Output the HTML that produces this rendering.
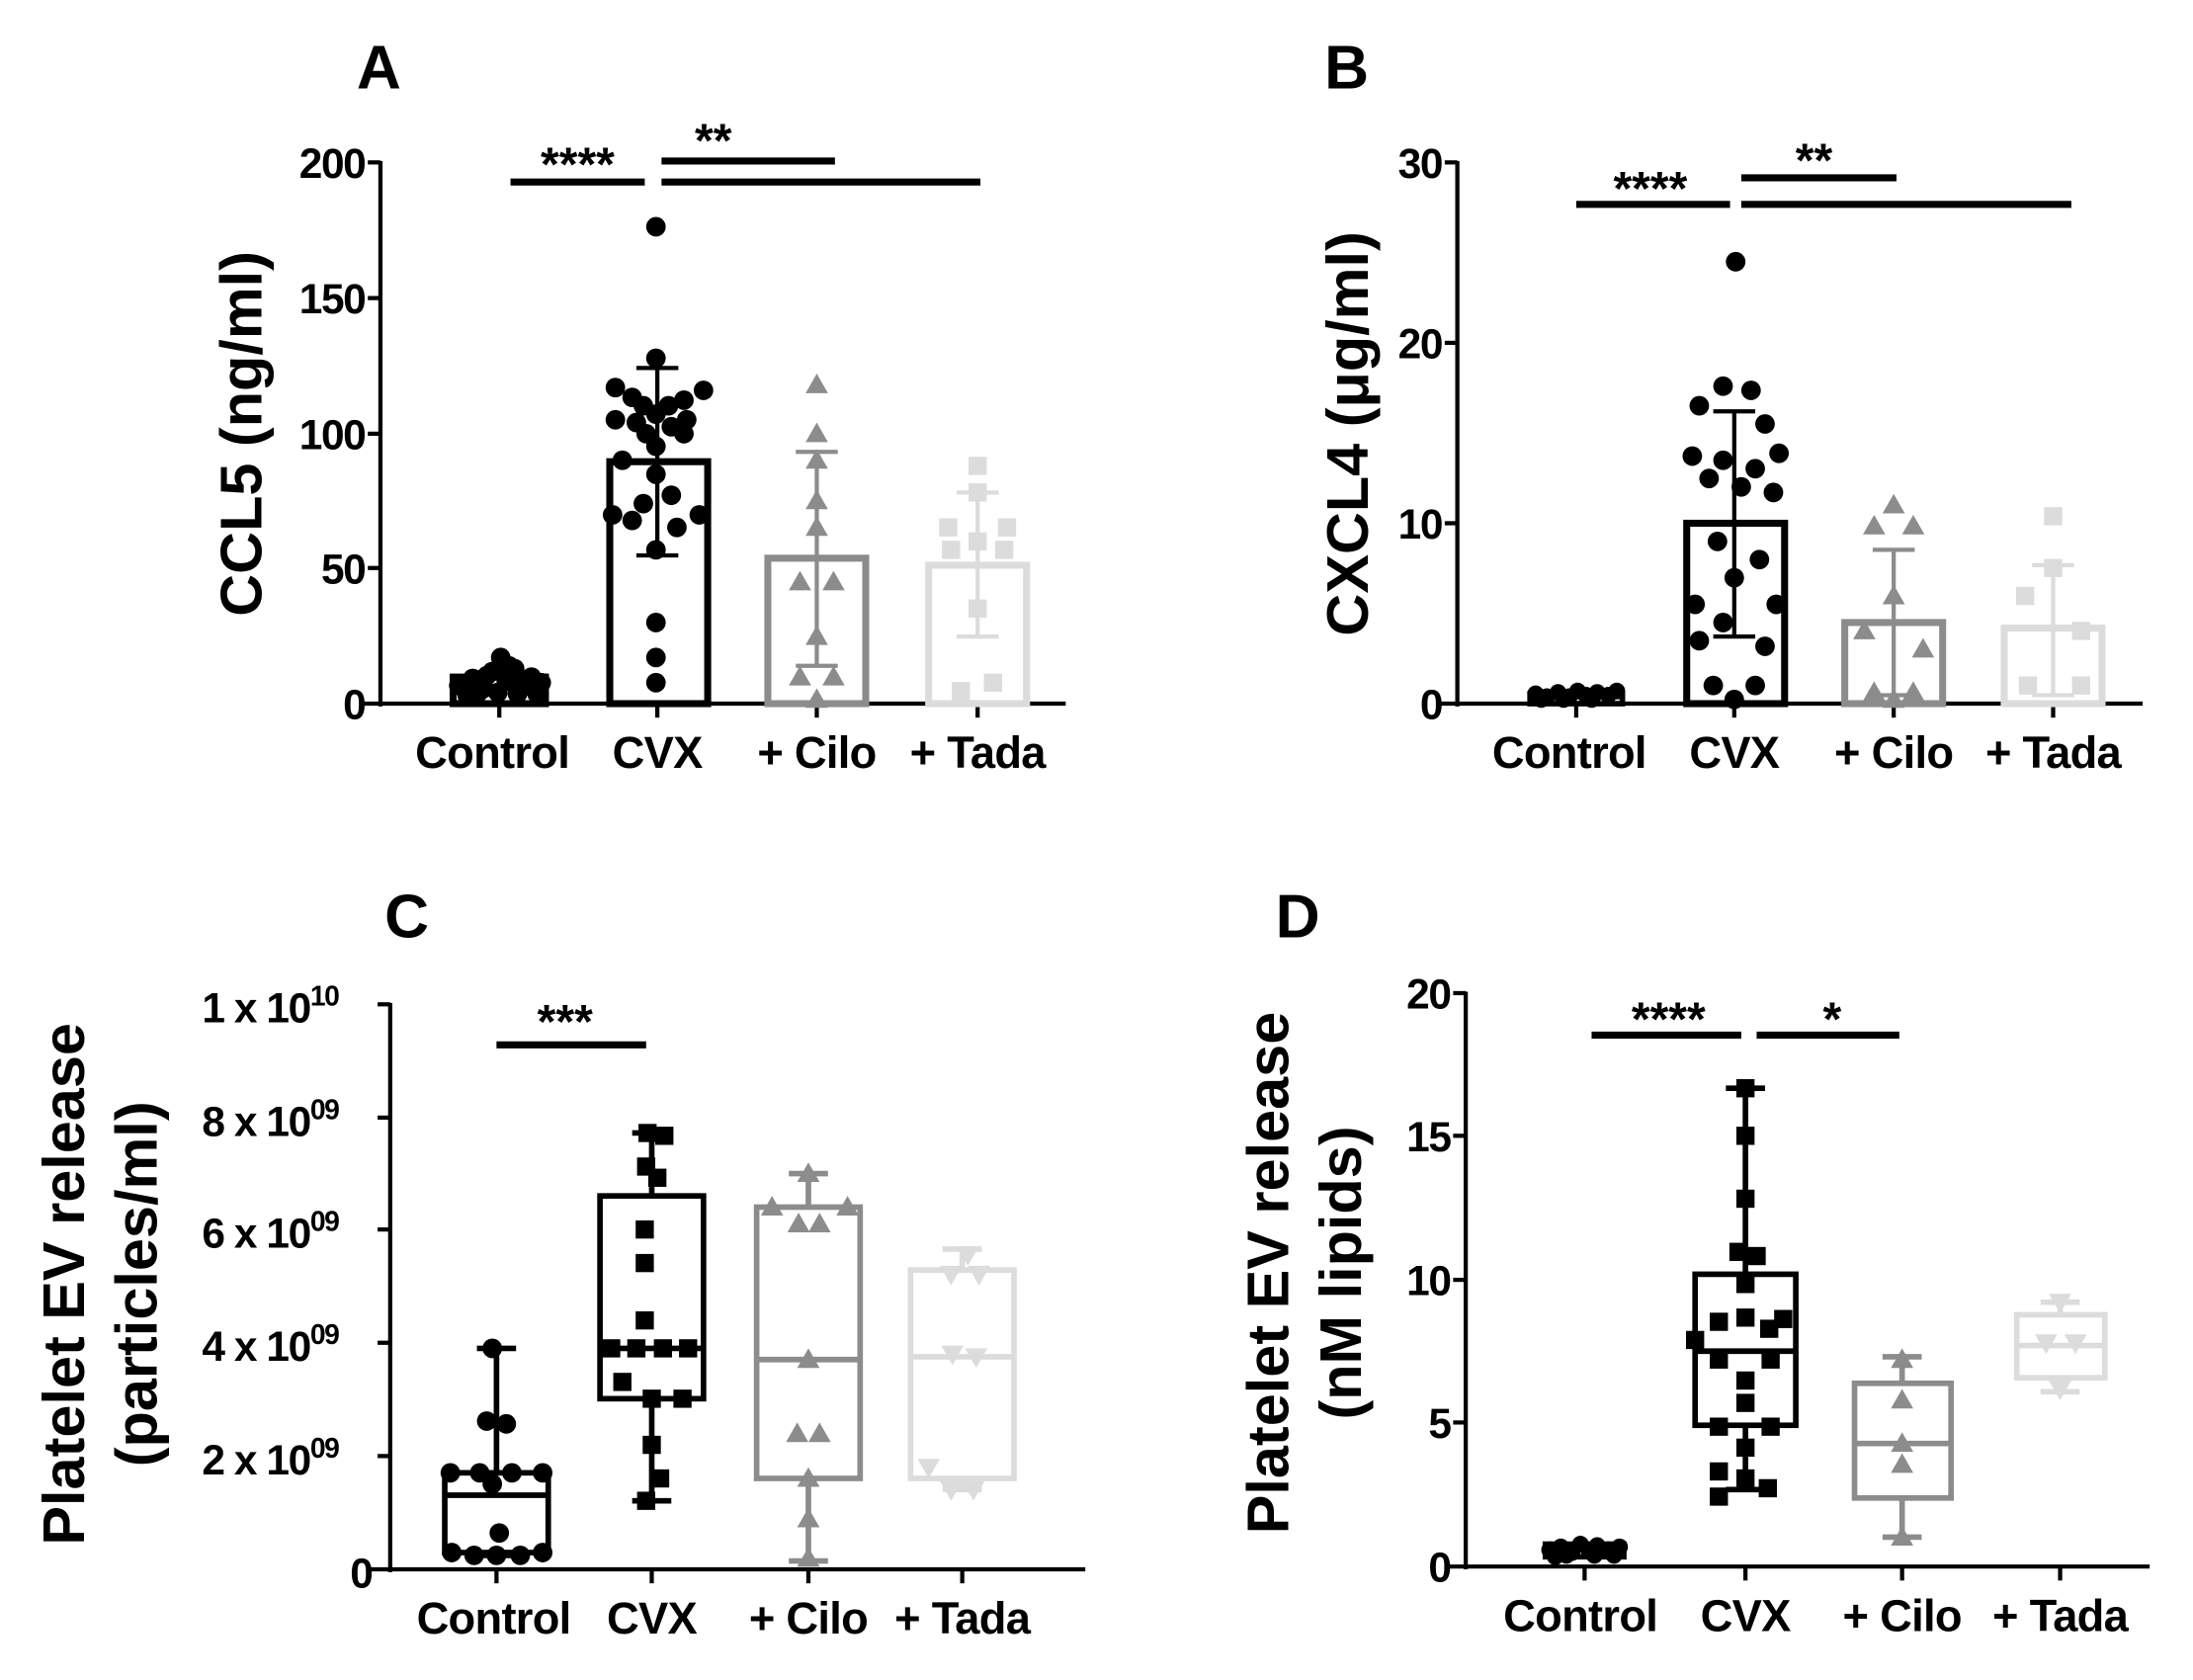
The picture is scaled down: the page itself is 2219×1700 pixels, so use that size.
<!DOCTYPE html>
<html><head><meta charset="utf-8"><style>
html,body{margin:0;padding:0;background:#fff}
svg{display:block}
text{font-family:"Liberation Sans",Arial,sans-serif;font-weight:bold;fill:#000}
.t{font-size:30px;letter-spacing:-1px}
.xl{font-size:32px;letter-spacing:-0.5px}
.yl{font-size:42px}
.pl{font-size:44px}
.s{font-size:34px}
</style></head><body>
<svg width="2219" height="1700" viewBox="0 0 1568 1201" xmlns="http://www.w3.org/2000/svg">
<defs>
<circle id="c" r="7" fill="#000"/>
<circle id="cs" r="6" fill="#000"/>
<rect id="q" x="-6.5" y="-6.5" width="13" height="13" fill="#000"/>
<polygon id="tg" points="0,-8 8,6 -8,6" fill="#8c8c8c"/>
<rect id="ql" x="-6.5" y="-6.5" width="13" height="13" fill="#dcdcdc"/>
<polygon id="vl" points="0,8 8,-6 -8,-6" fill="#dcdcdc"/>
</defs>

<!-- ============ PANEL A ============ -->
<text class="pl" x="255" y="63">A</text>
<g stroke="#000" stroke-width="3" fill="none">
<line x1="272" y1="115" x2="272" y2="505"/>
<line x1="258" y1="503" x2="762" y2="503"/>
<line x1="263" y1="116" x2="272" y2="116"/><line x1="263" y1="213" x2="272" y2="213"/>
<line x1="263" y1="310" x2="272" y2="310"/><line x1="263" y1="406" x2="272" y2="406"/>
<line x1="357" y1="503" x2="357" y2="513"/><line x1="470" y1="503" x2="470" y2="513"/>
<line x1="584" y1="503" x2="584" y2="513"/><line x1="699" y1="503" x2="699" y2="513"/>
</g>
<g class="t" text-anchor="end"><text x="261" y="127">200</text><text x="261" y="224">150</text><text x="261" y="321">100</text><text x="261" y="417">50</text><text x="261" y="514">0</text></g>
<g class="xl" text-anchor="middle"><text x="352" y="549">Control</text><text x="470" y="549">CVX</text><text x="584" y="549">+ Cilo</text><text x="699" y="549">+ Tada</text></g>
<text class="yl" transform="translate(187,310) rotate(-90)" text-anchor="middle">CCL5 (ng/ml)</text>
<rect x="324" y="484" width="66" height="19" fill="none" stroke="#000" stroke-width="5"/>
<rect x="436" y="330" width="70" height="173" fill="none" stroke="#000" stroke-width="5"/>
<rect x="549" y="399" width="70" height="104" fill="none" stroke="#8c8c8c" stroke-width="5"/>
<rect x="664" y="404" width="70" height="99" fill="none" stroke="#dcdcdc" stroke-width="5"/>
<g stroke="#000" stroke-width="3"><line x1="470" y1="263" x2="470" y2="397"/><line x1="455" y1="263" x2="485" y2="263"/><line x1="455" y1="397" x2="485" y2="397"/></g>
<g stroke="#8c8c8c" stroke-width="3"><line x1="584" y1="323" x2="584" y2="476"/><line x1="569" y1="323" x2="599" y2="323"/><line x1="569" y1="476" x2="599" y2="476"/></g>
<g stroke="#dcdcdc" stroke-width="3"><line x1="699" y1="352" x2="699" y2="455"/><line x1="684" y1="352" x2="714" y2="352"/><line x1="684" y1="455" x2="714" y2="455"/></g>
<g>
<use href="#c" x="328" y="490"/><use href="#c" x="338" y="485"/><use href="#c" x="346" y="492"/><use href="#c" x="352" y="480"/><use href="#c" x="358" y="470"/><use href="#c" x="362" y="487"/><use href="#c" x="368" y="478"/><use href="#c" x="374" y="491"/><use href="#c" x="380" y="484"/><use href="#c" x="387" y="488"/><use href="#c" x="342" y="495"/><use href="#c" x="356" y="495"/><use href="#c" x="370" y="496"/><use href="#c" x="334" y="497"/><use href="#c" x="384" y="496"/><use href="#c" x="364" y="476"/><use href="#c" x="348" y="483"/>
</g>
<g>
<use href="#c" x="469" y="162"/><use href="#c" x="469" y="256"/><use href="#c" x="440" y="277"/><use href="#c" x="503" y="279"/><use href="#c" x="452" y="284"/><use href="#c" x="489" y="286"/><use href="#c" x="460" y="290"/><use href="#c" x="478" y="290"/><use href="#c" x="469" y="296"/><use href="#c" x="440" y="300"/><use href="#c" x="491" y="300"/><use href="#c" x="455" y="302"/><use href="#c" x="480" y="305"/><use href="#c" x="462" y="310"/><use href="#c" x="489" y="310"/><use href="#c" x="469" y="319"/><use href="#c" x="445" y="329"/><use href="#c" x="469" y="339"/><use href="#c" x="480" y="354"/><use href="#c" x="460" y="360"/><use href="#c" x="438" y="368"/><use href="#c" x="500" y="368"/><use href="#c" x="452" y="372"/><use href="#c" x="484" y="377"/><use href="#c" x="469" y="393"/><use href="#c" x="469" y="445"/><use href="#c" x="469" y="470"/><use href="#c" x="469" y="488"/>
</g>
<g>
<use href="#tg" x="584" y="275"/><use href="#tg" x="584" y="310"/><use href="#tg" x="584" y="329"/><use href="#tg" x="584" y="358"/><use href="#tg" x="584" y="377"/><use href="#tg" x="572" y="416"/><use href="#tg" x="596" y="416"/><use href="#tg" x="584" y="455"/><use href="#tg" x="572" y="484"/><use href="#tg" x="596" y="484"/><use href="#tg" x="584" y="500"/>
</g>
<g>
<use href="#ql" x="699" y="333"/><use href="#ql" x="699" y="352"/><use href="#ql" x="678" y="377"/><use href="#ql" x="720" y="377"/><use href="#ql" x="699" y="387"/><use href="#ql" x="680" y="393"/><use href="#ql" x="718" y="393"/><use href="#ql" x="699" y="435"/><use href="#ql" x="710" y="488"/><use href="#ql" x="687" y="494"/>
</g>
<g stroke="#000" stroke-width="5"><line x1="365" y1="130" x2="461" y2="130"/><line x1="473" y1="115" x2="597" y2="115"/><line x1="473" y1="130" x2="701" y2="130"/></g>
<text class="s" x="413" y="129" text-anchor="middle">****</text>
<text class="s" x="510" y="112" text-anchor="middle">**</text>

<!-- ============ PANEL B ============ -->
<text class="pl" x="947" y="63">B</text>
<g stroke="#000" stroke-width="3" fill="none">
<line x1="1042" y1="115" x2="1042" y2="505"/>
<line x1="1028" y1="503" x2="1532" y2="503"/>
<line x1="1033" y1="116" x2="1042" y2="116"/><line x1="1033" y1="245" x2="1042" y2="245"/><line x1="1033" y1="374" x2="1042" y2="374"/>
<line x1="1127" y1="503" x2="1127" y2="513"/><line x1="1240" y1="503" x2="1240" y2="513"/><line x1="1354" y1="503" x2="1354" y2="513"/><line x1="1468" y1="503" x2="1468" y2="513"/>
</g>
<g class="t" text-anchor="end"><text x="1031" y="127">30</text><text x="1031" y="256">20</text><text x="1031" y="385">10</text><text x="1031" y="514">0</text></g>
<g class="xl" text-anchor="middle"><text x="1122" y="549">Control</text><text x="1240" y="549">CVX</text><text x="1354" y="549">+ Cilo</text><text x="1468" y="549">+ Tada</text></g>
<text class="yl" transform="translate(978,310) rotate(-90)" text-anchor="middle">CXCL4 (μg/ml)</text>
<rect x="1094" y="496" width="66" height="7" fill="none" stroke="#000" stroke-width="4"/>
<rect x="1206" y="374" width="70" height="129" fill="none" stroke="#000" stroke-width="5"/>
<rect x="1319" y="445" width="70" height="58" fill="none" stroke="#8c8c8c" stroke-width="5"/>
<rect x="1433" y="449" width="70" height="54" fill="none" stroke="#dcdcdc" stroke-width="5"/>
<g stroke="#000" stroke-width="3"><line x1="1240" y1="294" x2="1240" y2="455"/><line x1="1225" y1="294" x2="1255" y2="294"/><line x1="1225" y1="455" x2="1255" y2="455"/></g>
<g stroke="#8c8c8c" stroke-width="3"><line x1="1354" y1="393" x2="1354" y2="497"/><line x1="1339" y1="393" x2="1369" y2="393"/><line x1="1339" y1="497" x2="1369" y2="497"/></g>
<g stroke="#dcdcdc" stroke-width="3"><line x1="1468" y1="404" x2="1468" y2="497"/><line x1="1453" y1="404" x2="1483" y2="404"/><line x1="1453" y1="497" x2="1483" y2="497"/></g>
<g>
<use href="#cs" x="1098" y="496"/><use href="#cs" x="1106" y="498"/><use href="#cs" x="1114" y="495"/><use href="#cs" x="1122" y="498"/><use href="#cs" x="1128" y="494"/><use href="#cs" x="1134" y="497"/><use href="#cs" x="1142" y="495"/><use href="#cs" x="1150" y="497"/><use href="#cs" x="1156" y="494"/><use href="#cs" x="1118" y="500"/><use href="#cs" x="1138" y="500"/><use href="#cs" x="1102" y="500"/>
</g>
<g>
<use href="#c" x="1241" y="187"/><use href="#c" x="1232" y="276"/><use href="#c" x="1252" y="279"/><use href="#c" x="1215" y="290"/><use href="#c" x="1262" y="303"/><use href="#c" x="1210" y="326"/><use href="#c" x="1272" y="324"/><use href="#c" x="1232" y="329"/><use href="#c" x="1255" y="335"/><use href="#c" x="1222" y="342"/><use href="#c" x="1245" y="348"/><use href="#c" x="1268" y="352"/><use href="#c" x="1228" y="387"/><use href="#c" x="1258" y="400"/><use href="#c" x="1240" y="413"/><use href="#c" x="1212" y="432"/><use href="#c" x="1270" y="432"/><use href="#c" x="1232" y="445"/><use href="#c" x="1215" y="458"/><use href="#c" x="1262" y="462"/><use href="#c" x="1225" y="490"/><use href="#c" x="1255" y="490"/><use href="#c" x="1240" y="500"/>
</g>
<g>
<use href="#tg" x="1354" y="361"/><use href="#tg" x="1340" y="376"/><use href="#tg" x="1368" y="376"/><use href="#tg" x="1354" y="426"/><use href="#tg" x="1333" y="451"/><use href="#tg" x="1375" y="464"/><use href="#tg" x="1340" y="495"/><use href="#tg" x="1368" y="495"/><use href="#tg" x="1354" y="500"/>
</g>
<g>
<use href="#ql" x="1468" y="369"/><use href="#ql" x="1468" y="406"/><use href="#ql" x="1448" y="426"/><use href="#ql" x="1488" y="451"/><use href="#ql" x="1450" y="490"/><use href="#ql" x="1488" y="490"/>
</g>
<g stroke="#000" stroke-width="5"><line x1="1127" y1="146" x2="1237" y2="146"/><line x1="1245" y1="127" x2="1356" y2="127"/><line x1="1245" y1="146" x2="1481" y2="146"/></g>
<text class="s" x="1180" y="146" text-anchor="middle">****</text>
<text class="s" x="1297" y="126" text-anchor="middle">**</text>

<!-- ============ PANEL C ============ -->
<text class="pl" x="275" y="670">C</text>
<g stroke="#000" stroke-width="3" fill="none">
<line x1="279" y1="717" x2="279" y2="1124"/>
<line x1="265" y1="1122" x2="776" y2="1122"/>
<line x1="270" y1="718" x2="279" y2="718"/><line x1="270" y1="799" x2="279" y2="799"/><line x1="270" y1="879" x2="279" y2="879"/><line x1="270" y1="960" x2="279" y2="960"/><line x1="270" y1="1041" x2="279" y2="1041"/>
<line x1="355" y1="1122" x2="355" y2="1132"/><line x1="466" y1="1122" x2="466" y2="1132"/><line x1="578" y1="1122" x2="578" y2="1132"/><line x1="688" y1="1122" x2="688" y2="1132"/>
</g>
<g class="t" text-anchor="end">
<text x="242" y="731">1 x 10<tspan font-size="20" dy="-12">10</tspan></text>
<text x="242" y="812">8 x 10<tspan font-size="20" dy="-12">09</tspan></text>
<text x="242" y="892">6 x 10<tspan font-size="20" dy="-12">09</tspan></text>
<text x="242" y="973">4 x 10<tspan font-size="20" dy="-12">09</tspan></text>
<text x="242" y="1054">2 x 10<tspan font-size="20" dy="-12">09</tspan></text>
<text x="266" y="1135">0</text>
</g>
<g class="xl" text-anchor="middle"><text x="353" y="1168">Control</text><text x="466" y="1168">CVX</text><text x="578" y="1168">+ Cilo</text><text x="688" y="1168">+ Tada</text></g>
<text class="yl" transform="translate(60,918) rotate(-90)" text-anchor="middle">Platelet EV release</text>
<text class="yl" transform="translate(112,918) rotate(-90)" text-anchor="middle">(particles/ml)</text>
<g stroke="#000" stroke-width="4" fill="none">
<line x1="355" y1="964" x2="355" y2="1112"/><line x1="341" y1="964" x2="369" y2="964"/><line x1="341" y1="1112" x2="369" y2="1112"/>
<rect x="318" y="1053" width="74" height="57" fill="#fff"/><line x1="318" y1="1069" x2="392" y2="1069"/>
<line x1="466" y1="810" x2="466" y2="1073"/><line x1="452" y1="810" x2="480" y2="810"/><line x1="452" y1="1073" x2="480" y2="1073"/>
<rect x="429" y="855" width="74" height="145" fill="#fff"/><line x1="429" y1="964" x2="503" y2="964"/>
</g>
<g stroke="#8c8c8c" stroke-width="4" fill="none">
<line x1="578" y1="839" x2="578" y2="1116"/><line x1="564" y1="839" x2="592" y2="839"/><line x1="564" y1="1116" x2="592" y2="1116"/>
<rect x="541" y="863" width="74" height="194" fill="#fff"/><line x1="541" y1="972" x2="615" y2="972"/>
</g>
<g stroke="#dcdcdc" stroke-width="4" fill="none">
<line x1="688" y1="893" x2="688" y2="1065"/><line x1="674" y1="893" x2="702" y2="893"/><line x1="674" y1="1065" x2="702" y2="1065"/>
<rect x="651" y="908" width="74" height="149" fill="#fff"/><line x1="651" y1="970" x2="725" y2="970"/>
</g>
<g>
<use href="#c" x="352" y="964"/><use href="#c" x="348" y="1016"/><use href="#c" x="362" y="1018"/><use href="#c" x="322" y="1053"/><use href="#c" x="343" y="1053"/><use href="#c" x="366" y="1053"/><use href="#c" x="388" y="1053"/><use href="#c" x="352" y="1061"/><use href="#c" x="357" y="1096"/><use href="#c" x="323" y="1110"/><use href="#c" x="339" y="1112"/><use href="#c" x="355" y="1112"/><use href="#c" x="372" y="1112"/><use href="#c" x="388" y="1110"/>
</g>
<g>
<use href="#q" x="463" y="810"/><use href="#q" x="475" y="812"/><use href="#q" x="462" y="834"/><use href="#q" x="470" y="842"/><use href="#q" x="461" y="879"/><use href="#q" x="461" y="903"/><use href="#q" x="461" y="944"/><use href="#q" x="437" y="964"/><use href="#q" x="455" y="964"/><use href="#q" x="474" y="964"/><use href="#q" x="492" y="964"/><use href="#q" x="445" y="988"/><use href="#q" x="466" y="1000"/><use href="#q" x="488" y="1000"/><use href="#q" x="466" y="1033"/><use href="#q" x="472" y="1057"/><use href="#q" x="462" y="1073"/>
</g>
<g>
<use href="#tg" x="578" y="839"/><use href="#tg" x="552" y="863"/><use href="#tg" x="606" y="863"/><use href="#tg" x="571" y="875"/><use href="#tg" x="586" y="875"/><use href="#tg" x="578" y="972"/><use href="#tg" x="570" y="1025"/><use href="#tg" x="586" y="1025"/><use href="#tg" x="578" y="1057"/><use href="#tg" x="578" y="1086"/><use href="#tg" x="578" y="1114"/>
</g>
<g>
<use href="#vl" x="692" y="897"/><use href="#vl" x="680" y="911"/><use href="#vl" x="700" y="911"/><use href="#vl" x="681" y="968"/><use href="#vl" x="698" y="970"/><use href="#vl" x="664" y="1049"/><use href="#vl" x="680" y="1065"/><use href="#vl" x="696" y="1065"/>
</g>
<line x1="355" y1="747" x2="462" y2="747" stroke="#000" stroke-width="5"/>
<text class="s" x="404" y="742" text-anchor="middle">***</text>

<!-- ============ PANEL D ============ -->
<text class="pl" x="912" y="670">D</text>
<g stroke="#000" stroke-width="3" fill="none">
<line x1="1048" y1="709" x2="1048" y2="1122"/>
<line x1="1034" y1="1120" x2="1537" y2="1120"/>
<line x1="1039" y1="710" x2="1048" y2="710"/><line x1="1039" y1="812" x2="1048" y2="812"/><line x1="1039" y1="915" x2="1048" y2="915"/><line x1="1039" y1="1017" x2="1048" y2="1017"/>
<line x1="1133" y1="1120" x2="1133" y2="1130"/><line x1="1248" y1="1120" x2="1248" y2="1130"/><line x1="1360" y1="1120" x2="1360" y2="1130"/><line x1="1473" y1="1120" x2="1473" y2="1130"/>
</g>
<g class="t" text-anchor="end"><text x="1037" y="721">20</text><text x="1037" y="823">15</text><text x="1037" y="926">10</text><text x="1037" y="1028">5</text><text x="1037" y="1131">0</text></g>
<g class="xl" text-anchor="middle"><text x="1130" y="1166">Control</text><text x="1248" y="1166">CVX</text><text x="1360" y="1166">+ Cilo</text><text x="1473" y="1166">+ Tada</text></g>
<text class="yl" transform="translate(921,910) rotate(-90)" text-anchor="middle">Platelet EV release</text>
<text class="yl" transform="translate(973,910) rotate(-90)" text-anchor="middle">(nM lipids)</text>
<g stroke="#000" stroke-width="4" fill="none">
<line x1="1248" y1="778" x2="1248" y2="1065"/><line x1="1234" y1="778" x2="1262" y2="778"/><line x1="1234" y1="1065" x2="1262" y2="1065"/>
<rect x="1212" y="911" width="72" height="108" fill="#fff"/><line x1="1212" y1="966" x2="1284" y2="966"/>
<rect x="1105" y="1104" width="56" height="9" fill="#fff"/>
</g>
<g stroke="#8c8c8c" stroke-width="4" fill="none">
<line x1="1360" y1="970" x2="1360" y2="1099"/><line x1="1346" y1="970" x2="1374" y2="970"/><line x1="1346" y1="1099" x2="1374" y2="1099"/>
<rect x="1326" y="989" width="69" height="82" fill="#fff"/><line x1="1326" y1="1032" x2="1395" y2="1032"/>
</g>
<g stroke="#dcdcdc" stroke-width="4" fill="none">
<line x1="1473" y1="931" x2="1473" y2="995"/><line x1="1459" y1="931" x2="1487" y2="931"/><line x1="1459" y1="995" x2="1487" y2="995"/>
<rect x="1442" y="940" width="63" height="45" fill="#fff"/><line x1="1442" y1="962" x2="1505" y2="962"/>
</g>
<g>
<use href="#cs" x="1108" y="1108"/><use href="#cs" x="1116" y="1106"/><use href="#cs" x="1124" y="1110"/><use href="#cs" x="1130" y="1104"/><use href="#cs" x="1136" y="1108"/><use href="#cs" x="1142" y="1105"/><use href="#cs" x="1150" y="1108"/><use href="#cs" x="1158" y="1106"/><use href="#cs" x="1120" y="1112"/><use href="#cs" x="1140" y="1112"/><use href="#cs" x="1154" y="1112"/><use href="#cs" x="1112" y="1113"/>
</g>
<g>
<use href="#q" x="1248" y="778"/><use href="#q" x="1248" y="812"/><use href="#q" x="1248" y="857"/><use href="#q" x="1243" y="895"/><use href="#q" x="1256" y="898"/><use href="#q" x="1248" y="918"/><use href="#q" x="1229" y="945"/><use href="#q" x="1248" y="942"/><use href="#q" x="1275" y="943"/><use href="#q" x="1265" y="950"/><use href="#q" x="1212" y="958"/><use href="#q" x="1229" y="972"/><use href="#q" x="1266" y="972"/><use href="#q" x="1248" y="987"/><use href="#q" x="1248" y="1003"/><use href="#q" x="1229" y="1020"/><use href="#q" x="1266" y="1020"/><use href="#q" x="1248" y="1035"/><use href="#q" x="1229" y="1052"/><use href="#q" x="1248" y="1057"/><use href="#q" x="1264" y="1064"/><use href="#q" x="1229" y="1070"/>
</g>
<g>
<use href="#tg" x="1360" y="972"/><use href="#tg" x="1360" y="1001"/><use href="#tg" x="1360" y="1032"/><use href="#tg" x="1360" y="1047"/><use href="#tg" x="1360" y="1099"/>
</g>
<g>
<use href="#vl" x="1473" y="931"/><use href="#vl" x="1463" y="960"/><use href="#vl" x="1484" y="960"/><use href="#vl" x="1473" y="993"/>
</g>
<g stroke="#000" stroke-width="5"><line x1="1138" y1="740" x2="1245" y2="740"/><line x1="1256" y1="740" x2="1358" y2="740"/></g>
<text class="s" x="1193" y="740" text-anchor="middle">****</text>
<text class="s" x="1310" y="740" text-anchor="middle">*</text>
</svg>
</body></html>
